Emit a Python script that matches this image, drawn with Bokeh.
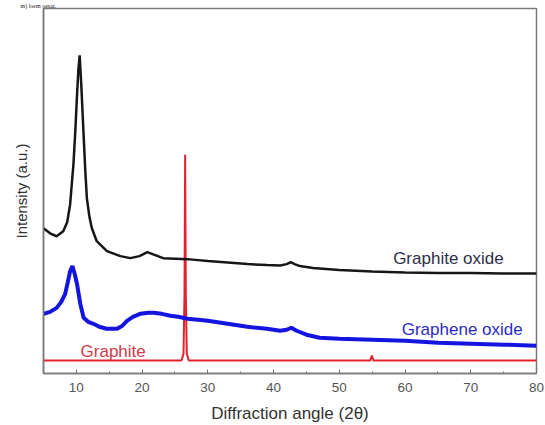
from bokeh.plotting import figure
from bokeh.models import Range1d, SingleIntervalTicker, FixedTicker, Label
from bokeh.embed import file_html
from bokeh.resources import INLINE

# Diffraction angle (2θ) and intensity (a.u.)
go_x = [5.0, 6.0, 7.0, 8.0, 8.6, 9.05, 9.55, 9.85, 10.07, 10.3, 10.5, 10.75, 11.08, 11.35, 11.6, 12.0, 12.36,
        13.1, 14.65, 16.7, 18.2, 19.6, 20.8, 22.0, 23.2, 26.9, 28.5, 30.0, 33.0, 36.0, 39.0, 41.0, 42.0, 42.6,
        43.2, 44.0, 46.0, 50.0, 55.0, 60.0, 65.0, 70.0, 75.0, 80.0]
go_y = [146, 141, 138, 143, 152, 170, 210, 245, 276, 305, 320, 290, 243, 205, 176, 157, 146,
        133, 123, 118, 116, 118, 122, 119, 116, 115, 114, 113, 111.5, 110, 109, 108.5, 110, 112,
        110, 108, 106, 104, 102.5, 101.5, 101, 101, 100.5, 100.5]

gno_x = [5.0, 6.0, 7.0, 7.7, 8.3, 8.7, 9.05, 9.4, 9.75, 10.1, 10.6, 11.1, 11.8, 12.6, 13.5, 14.6, 16.2, 17.0,
         17.7, 18.6, 19.7, 21.0, 21.7, 23.0, 24.3, 25.5, 26.9, 28.5, 30.0, 33.0, 36.0, 39.0, 41.0, 42.0, 42.7,
         43.5, 45.0, 47.0, 50.0, 55.0, 60.0, 65.0, 70.0, 75.0, 80.0]
gno_y = [60, 62, 66, 72, 80, 92, 103, 108, 100, 90, 70, 56, 52, 50, 47, 45, 45, 48,
         53, 57, 60, 61, 61, 60, 58, 57, 55, 54, 53, 50, 47, 45, 43, 44, 46,
         43, 39, 36, 35, 34, 33, 31, 30, 29, 28]

gr_x = [5.0, 26.0, 26.3, 26.45, 26.55, 26.65, 26.8, 27.1, 54.7, 54.95, 55.2, 80.0]
gr_y = [13, 13, 20, 80, 220, 80, 20, 13, 13, 18, 13, 13]

series_names = ["Graphite oxide", "Graphene oxide", "Graphite"]
x_title = "Diffraction angle (2θ)"
y_title = "Intensity (a.u.)"
page_text = "m) loem oesar."

FONT = "Liberation Sans"

p = figure(width=545, height=425, output_backend="svg", toolbar_location=None,
           x_range=Range1d(5, 80), y_range=Range1d(0, 367),
           min_border_left=43, min_border_right=9, min_border_top=0, min_border_bottom=52)
p.background_fill_color = "white"
p.border_fill_color = "white"
p.outline_line_color = "#7a7a7a"
p.outline_line_width = 1.5
p.xgrid.visible = False
p.ygrid.visible = False

# fragment of the surrounding page text above the chart
p.title.text = page_text
p.title.text_font = "Liberation Serif"
p.title.text_font_style = "normal"
p.title.text_font_size = "6px"
p.title.text_color = "#1a1a1a"
p.title.align = "left"
p.title.offset = -23
p.title.standoff = 0

p.xaxis.ticker = SingleIntervalTicker(interval=10, num_minor_ticks=2)
p.xaxis.major_tick_in = 4
p.xaxis.major_tick_out = 0
p.xaxis.minor_tick_in = 2
p.xaxis.minor_tick_out = 0
p.xaxis.axis_line_color = "#7a7a7a"
p.xaxis.axis_line_width = 1.5
p.xaxis.major_tick_line_color = "#777777"
p.xaxis.minor_tick_line_color = "#777777"
p.xaxis.major_label_text_font = FONT
p.xaxis.major_label_text_font_size = "13.5px"
p.xaxis.major_label_text_color = "#555555"
p.xaxis.major_label_standoff = 9
p.xaxis.axis_label = x_title
p.xaxis.axis_label_text_font = FONT
p.xaxis.axis_label_text_font_style = "normal"
p.xaxis.axis_label_text_font_size = "17px"
p.xaxis.axis_label_text_color = "#333333"
p.xaxis.axis_label_standoff = 9

p.yaxis.ticker = FixedTicker(ticks=[])
p.yaxis.axis_line_color = "#7a7a7a"
p.yaxis.axis_line_width = 1.5
p.yaxis.axis_label = y_title
p.yaxis.axis_label_text_font = FONT
p.yaxis.axis_label_text_font_style = "normal"
p.yaxis.axis_label_text_font_size = "15px"
p.yaxis.axis_label_text_color = "#333333"
p.yaxis.axis_label_standoff = 14

p.line(gr_x, gr_y, line_color="#e3222f", line_width=2)
p.line(gno_x, gno_y, line_color="#1414e0", line_width=4)
p.line(go_x, go_y, line_color="#161616", line_width=2.5)

label_style = dict(text_font=FONT, text_font_size="17px", text_align="center", text_baseline="middle")
p.add_layout(Label(x=66.6, y=116, text=series_names[0], text_color="#2e2e48", **label_style))
p.add_layout(Label(x=68.7, y=44, text=series_names[1], text_color="#2a2ac8", **label_style))
p.add_layout(Label(x=15.6, y=22, text=series_names[2], text_color="#d23a4a", **label_style))

open("out.html", "w").write(file_html(p, INLINE))
